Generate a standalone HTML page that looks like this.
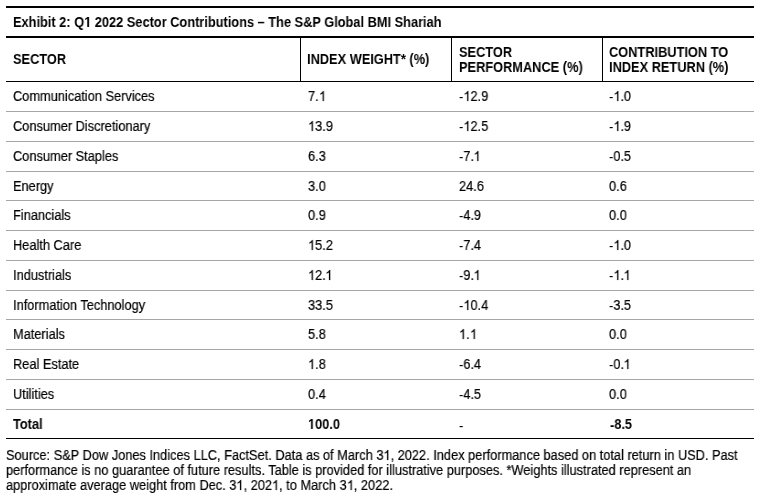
<!DOCTYPE html>
<html><head><meta charset="utf-8"><style>
html,body{margin:0;padding:0;background:#fff;}
body{width:761px;height:497px;position:relative;overflow:hidden;font-family:"Liberation Sans",sans-serif;color:#000;}
.h{position:absolute;left:6px;width:748px;}
.v{position:absolute;top:38px;height:43px;width:1px;background:#000;}
.t{position:absolute;font-size:14px;line-height:16px;white-space:nowrap;transform:scaleX(0.914);transform-origin:0 0;will-change:transform;-webkit-text-stroke:0.2px #000;}
.b{font-weight:bold;-webkit-text-stroke:0;}
.m{position:relative;top:1px;-webkit-text-stroke:0;}
.one{display:inline-block;width:7.786px;height:10px;vertical-align:baseline;overflow:visible;}
</style></head><body>

<div class="h" style="top:6px;height:2px;background:#000"></div>
<div class="h" style="top:36px;height:2px;background:#000"></div>
<div class="h" style="top:81px;height:1px;background:#000"></div>
<div class="h" style="top:111px;height:1px;background:#a6a6a6"></div>
<div class="h" style="top:141px;height:1px;background:#a6a6a6"></div>
<div class="h" style="top:171px;height:1px;background:#a6a6a6"></div>
<div class="h" style="top:200px;height:1px;background:#a6a6a6"></div>
<div class="h" style="top:230px;height:1px;background:#a6a6a6"></div>
<div class="h" style="top:260px;height:1px;background:#a6a6a6"></div>
<div class="h" style="top:290px;height:1px;background:#a6a6a6"></div>
<div class="h" style="top:319px;height:1px;background:#a6a6a6"></div>
<div class="h" style="top:349px;height:1px;background:#a6a6a6"></div>
<div class="h" style="top:379px;height:1px;background:#a6a6a6"></div>
<div class="h" style="top:409px;height:1px;background:#a6a6a6"></div>
<div class="h" style="top:438px;height:1px;background:#000"></div>
<div class="v" style="left:300px"></div>
<div class="v" style="left:451px"></div>
<div class="v" style="left:602px"></div>
<div class="t b" style="left:13.2px;top:14.37px">Exhibit 2: Q<svg class="one" viewBox="0 0 1139 1409" preserveAspectRatio="none"><path transform="matrix(1 0 0 -1 0 1409)" d="M478 0V1170L140 959V1180L493 1409H759V0Z"/></svg> 2022 Sector Contributions – The S&amp;P Global BMI Shariah</div>
<div class="t b" style="left:13.2px;top:51.37px">SECTOR</div>
<div class="t b" style="left:307.0px;top:51.37px">INDEX WEIGHT* (%)</div>
<div class="t b" style="left:458.7px;top:44.37px">SECTOR</div>
<div class="t b" style="left:458.7px;top:58.87px">PERFORMANCE (%)</div>
<div class="t b" style="left:609.0px;top:44.37px">CONTRIBUTION TO</div>
<div class="t b" style="left:609.0px;top:58.87px">INDEX RETURN (%)</div>
<div class="t" style="left:13.2px;top:88.37px">Communication Services</div>
<div class="t" style="left:307.5px;top:88.37px">7.<svg class="one" viewBox="0 0 1139 1466" preserveAspectRatio="none"><path transform="matrix(1 0 0 -1 0 1466)" d="M763 0H583V1147Q518 1085 412.5 1023Q307 961 223 930V1104Q374 1175 487 1276Q600 1377 647 1466H763Z" stroke="#000" stroke-width="30"/></svg></div>
<div class="t" style="left:458.7px;top:88.37px"><span class="m">-</span><svg class="one" viewBox="0 0 1139 1466" preserveAspectRatio="none"><path transform="matrix(1 0 0 -1 0 1466)" d="M763 0H583V1147Q518 1085 412.5 1023Q307 961 223 930V1104Q374 1175 487 1276Q600 1377 647 1466H763Z" stroke="#000" stroke-width="30"/></svg>2.9</div>
<div class="t" style="left:609.0px;top:88.37px"><span class="m">-</span><svg class="one" viewBox="0 0 1139 1466" preserveAspectRatio="none"><path transform="matrix(1 0 0 -1 0 1466)" d="M763 0H583V1147Q518 1085 412.5 1023Q307 961 223 930V1104Q374 1175 487 1276Q600 1377 647 1466H763Z" stroke="#000" stroke-width="30"/></svg>.0</div>
<div class="t" style="left:13.2px;top:118.37px">Consumer Discretionary</div>
<div class="t" style="left:307.5px;top:118.37px"><svg class="one" viewBox="0 0 1139 1466" preserveAspectRatio="none"><path transform="matrix(1 0 0 -1 0 1466)" d="M763 0H583V1147Q518 1085 412.5 1023Q307 961 223 930V1104Q374 1175 487 1276Q600 1377 647 1466H763Z" stroke="#000" stroke-width="30"/></svg>3.9</div>
<div class="t" style="left:458.7px;top:118.37px"><span class="m">-</span><svg class="one" viewBox="0 0 1139 1466" preserveAspectRatio="none"><path transform="matrix(1 0 0 -1 0 1466)" d="M763 0H583V1147Q518 1085 412.5 1023Q307 961 223 930V1104Q374 1175 487 1276Q600 1377 647 1466H763Z" stroke="#000" stroke-width="30"/></svg>2.5</div>
<div class="t" style="left:609.0px;top:118.37px"><span class="m">-</span><svg class="one" viewBox="0 0 1139 1466" preserveAspectRatio="none"><path transform="matrix(1 0 0 -1 0 1466)" d="M763 0H583V1147Q518 1085 412.5 1023Q307 961 223 930V1104Q374 1175 487 1276Q600 1377 647 1466H763Z" stroke="#000" stroke-width="30"/></svg>.9</div>
<div class="t" style="left:13.2px;top:148.37px">Consumer Staples</div>
<div class="t" style="left:307.5px;top:148.37px">6.3</div>
<div class="t" style="left:458.7px;top:148.37px"><span class="m">-</span>7.<svg class="one" viewBox="0 0 1139 1466" preserveAspectRatio="none"><path transform="matrix(1 0 0 -1 0 1466)" d="M763 0H583V1147Q518 1085 412.5 1023Q307 961 223 930V1104Q374 1175 487 1276Q600 1377 647 1466H763Z" stroke="#000" stroke-width="30"/></svg></div>
<div class="t" style="left:609.0px;top:148.37px"><span class="m">-</span>0.5</div>
<div class="t" style="left:13.2px;top:178.37px">Energy</div>
<div class="t" style="left:307.5px;top:178.37px">3.0</div>
<div class="t" style="left:458.7px;top:178.37px">24.6</div>
<div class="t" style="left:609.0px;top:178.37px">0.6</div>
<div class="t" style="left:13.2px;top:207.37px">Financials</div>
<div class="t" style="left:307.5px;top:207.37px">0.9</div>
<div class="t" style="left:458.7px;top:207.37px"><span class="m">-</span>4.9</div>
<div class="t" style="left:609.0px;top:207.37px">0.0</div>
<div class="t" style="left:13.2px;top:237.37px">Health Care</div>
<div class="t" style="left:307.5px;top:237.37px"><svg class="one" viewBox="0 0 1139 1466" preserveAspectRatio="none"><path transform="matrix(1 0 0 -1 0 1466)" d="M763 0H583V1147Q518 1085 412.5 1023Q307 961 223 930V1104Q374 1175 487 1276Q600 1377 647 1466H763Z" stroke="#000" stroke-width="30"/></svg>5.2</div>
<div class="t" style="left:458.7px;top:237.37px"><span class="m">-</span>7.4</div>
<div class="t" style="left:609.0px;top:237.37px"><span class="m">-</span><svg class="one" viewBox="0 0 1139 1466" preserveAspectRatio="none"><path transform="matrix(1 0 0 -1 0 1466)" d="M763 0H583V1147Q518 1085 412.5 1023Q307 961 223 930V1104Q374 1175 487 1276Q600 1377 647 1466H763Z" stroke="#000" stroke-width="30"/></svg>.0</div>
<div class="t" style="left:13.2px;top:267.37px">Industrials</div>
<div class="t" style="left:307.5px;top:267.37px"><svg class="one" viewBox="0 0 1139 1466" preserveAspectRatio="none"><path transform="matrix(1 0 0 -1 0 1466)" d="M763 0H583V1147Q518 1085 412.5 1023Q307 961 223 930V1104Q374 1175 487 1276Q600 1377 647 1466H763Z" stroke="#000" stroke-width="30"/></svg>2.<svg class="one" viewBox="0 0 1139 1466" preserveAspectRatio="none"><path transform="matrix(1 0 0 -1 0 1466)" d="M763 0H583V1147Q518 1085 412.5 1023Q307 961 223 930V1104Q374 1175 487 1276Q600 1377 647 1466H763Z" stroke="#000" stroke-width="30"/></svg></div>
<div class="t" style="left:458.7px;top:267.37px"><span class="m">-</span>9.<svg class="one" viewBox="0 0 1139 1466" preserveAspectRatio="none"><path transform="matrix(1 0 0 -1 0 1466)" d="M763 0H583V1147Q518 1085 412.5 1023Q307 961 223 930V1104Q374 1175 487 1276Q600 1377 647 1466H763Z" stroke="#000" stroke-width="30"/></svg></div>
<div class="t" style="left:609.0px;top:267.37px"><span class="m">-</span><svg class="one" viewBox="0 0 1139 1466" preserveAspectRatio="none"><path transform="matrix(1 0 0 -1 0 1466)" d="M763 0H583V1147Q518 1085 412.5 1023Q307 961 223 930V1104Q374 1175 487 1276Q600 1377 647 1466H763Z" stroke="#000" stroke-width="30"/></svg>.<svg class="one" viewBox="0 0 1139 1466" preserveAspectRatio="none"><path transform="matrix(1 0 0 -1 0 1466)" d="M763 0H583V1147Q518 1085 412.5 1023Q307 961 223 930V1104Q374 1175 487 1276Q600 1377 647 1466H763Z" stroke="#000" stroke-width="30"/></svg></div>
<div class="t" style="left:13.2px;top:297.37px">Information Technology</div>
<div class="t" style="left:307.5px;top:297.37px">33.5</div>
<div class="t" style="left:458.7px;top:297.37px"><span class="m">-</span><svg class="one" viewBox="0 0 1139 1466" preserveAspectRatio="none"><path transform="matrix(1 0 0 -1 0 1466)" d="M763 0H583V1147Q518 1085 412.5 1023Q307 961 223 930V1104Q374 1175 487 1276Q600 1377 647 1466H763Z" stroke="#000" stroke-width="30"/></svg>0.4</div>
<div class="t" style="left:609.0px;top:297.37px"><span class="m">-</span>3.5</div>
<div class="t" style="left:13.2px;top:326.37px">Materials</div>
<div class="t" style="left:307.5px;top:326.37px">5.8</div>
<div class="t" style="left:458.7px;top:326.37px"><svg class="one" viewBox="0 0 1139 1466" preserveAspectRatio="none"><path transform="matrix(1 0 0 -1 0 1466)" d="M763 0H583V1147Q518 1085 412.5 1023Q307 961 223 930V1104Q374 1175 487 1276Q600 1377 647 1466H763Z" stroke="#000" stroke-width="30"/></svg>.<svg class="one" viewBox="0 0 1139 1466" preserveAspectRatio="none"><path transform="matrix(1 0 0 -1 0 1466)" d="M763 0H583V1147Q518 1085 412.5 1023Q307 961 223 930V1104Q374 1175 487 1276Q600 1377 647 1466H763Z" stroke="#000" stroke-width="30"/></svg></div>
<div class="t" style="left:609.0px;top:326.37px">0.0</div>
<div class="t" style="left:13.2px;top:356.37px">Real Estate</div>
<div class="t" style="left:307.5px;top:356.37px"><svg class="one" viewBox="0 0 1139 1466" preserveAspectRatio="none"><path transform="matrix(1 0 0 -1 0 1466)" d="M763 0H583V1147Q518 1085 412.5 1023Q307 961 223 930V1104Q374 1175 487 1276Q600 1377 647 1466H763Z" stroke="#000" stroke-width="30"/></svg>.8</div>
<div class="t" style="left:458.7px;top:356.37px"><span class="m">-</span>6.4</div>
<div class="t" style="left:609.0px;top:356.37px"><span class="m">-</span>0.<svg class="one" viewBox="0 0 1139 1466" preserveAspectRatio="none"><path transform="matrix(1 0 0 -1 0 1466)" d="M763 0H583V1147Q518 1085 412.5 1023Q307 961 223 930V1104Q374 1175 487 1276Q600 1377 647 1466H763Z" stroke="#000" stroke-width="30"/></svg></div>
<div class="t" style="left:13.2px;top:386.37px">Utilities</div>
<div class="t" style="left:307.5px;top:386.37px">0.4</div>
<div class="t" style="left:458.7px;top:386.37px"><span class="m">-</span>4.5</div>
<div class="t" style="left:609.0px;top:386.37px">0.0</div>
<div class="t b" style="left:13.2px;top:416.37px">Total</div>
<div class="t b" style="left:307.5px;top:416.37px"><svg class="one" viewBox="0 0 1139 1409" preserveAspectRatio="none"><path transform="matrix(1 0 0 -1 0 1409)" d="M478 0V1170L140 959V1180L493 1409H759V0Z"/></svg>00.0</div>
<div class="t" style="left:458.7px;top:417.37px"><span class="m">-</span></div>
<div class="t b" style="left:610.0px;top:416.37px"><span class="m">-</span>8.5</div>
<div class="t" style="left:6.3px;top:447.37px">Source: S&amp;P Dow Jones Indices LLC, FactSet. Data as of March 3<svg class="one" viewBox="0 0 1139 1466" preserveAspectRatio="none"><path transform="matrix(1 0 0 -1 0 1466)" d="M763 0H583V1147Q518 1085 412.5 1023Q307 961 223 930V1104Q374 1175 487 1276Q600 1377 647 1466H763Z" stroke="#000" stroke-width="30"/></svg>, 2022. Index performance based on total return in USD. Past</div>
<div class="t" style="left:6.3px;top:462.37px">performance is no guarantee of future results. Table is provided for illustrative purposes. *Weights illustrated represent an</div>
<div class="t" style="left:6.3px;top:477.37px">approximate average weight from Dec. 3<svg class="one" viewBox="0 0 1139 1466" preserveAspectRatio="none"><path transform="matrix(1 0 0 -1 0 1466)" d="M763 0H583V1147Q518 1085 412.5 1023Q307 961 223 930V1104Q374 1175 487 1276Q600 1377 647 1466H763Z" stroke="#000" stroke-width="30"/></svg>, 202<svg class="one" viewBox="0 0 1139 1466" preserveAspectRatio="none"><path transform="matrix(1 0 0 -1 0 1466)" d="M763 0H583V1147Q518 1085 412.5 1023Q307 961 223 930V1104Q374 1175 487 1276Q600 1377 647 1466H763Z" stroke="#000" stroke-width="30"/></svg>, to March 3<svg class="one" viewBox="0 0 1139 1466" preserveAspectRatio="none"><path transform="matrix(1 0 0 -1 0 1466)" d="M763 0H583V1147Q518 1085 412.5 1023Q307 961 223 930V1104Q374 1175 487 1276Q600 1377 647 1466H763Z" stroke="#000" stroke-width="30"/></svg>, 2022.</div>
</body></html>
